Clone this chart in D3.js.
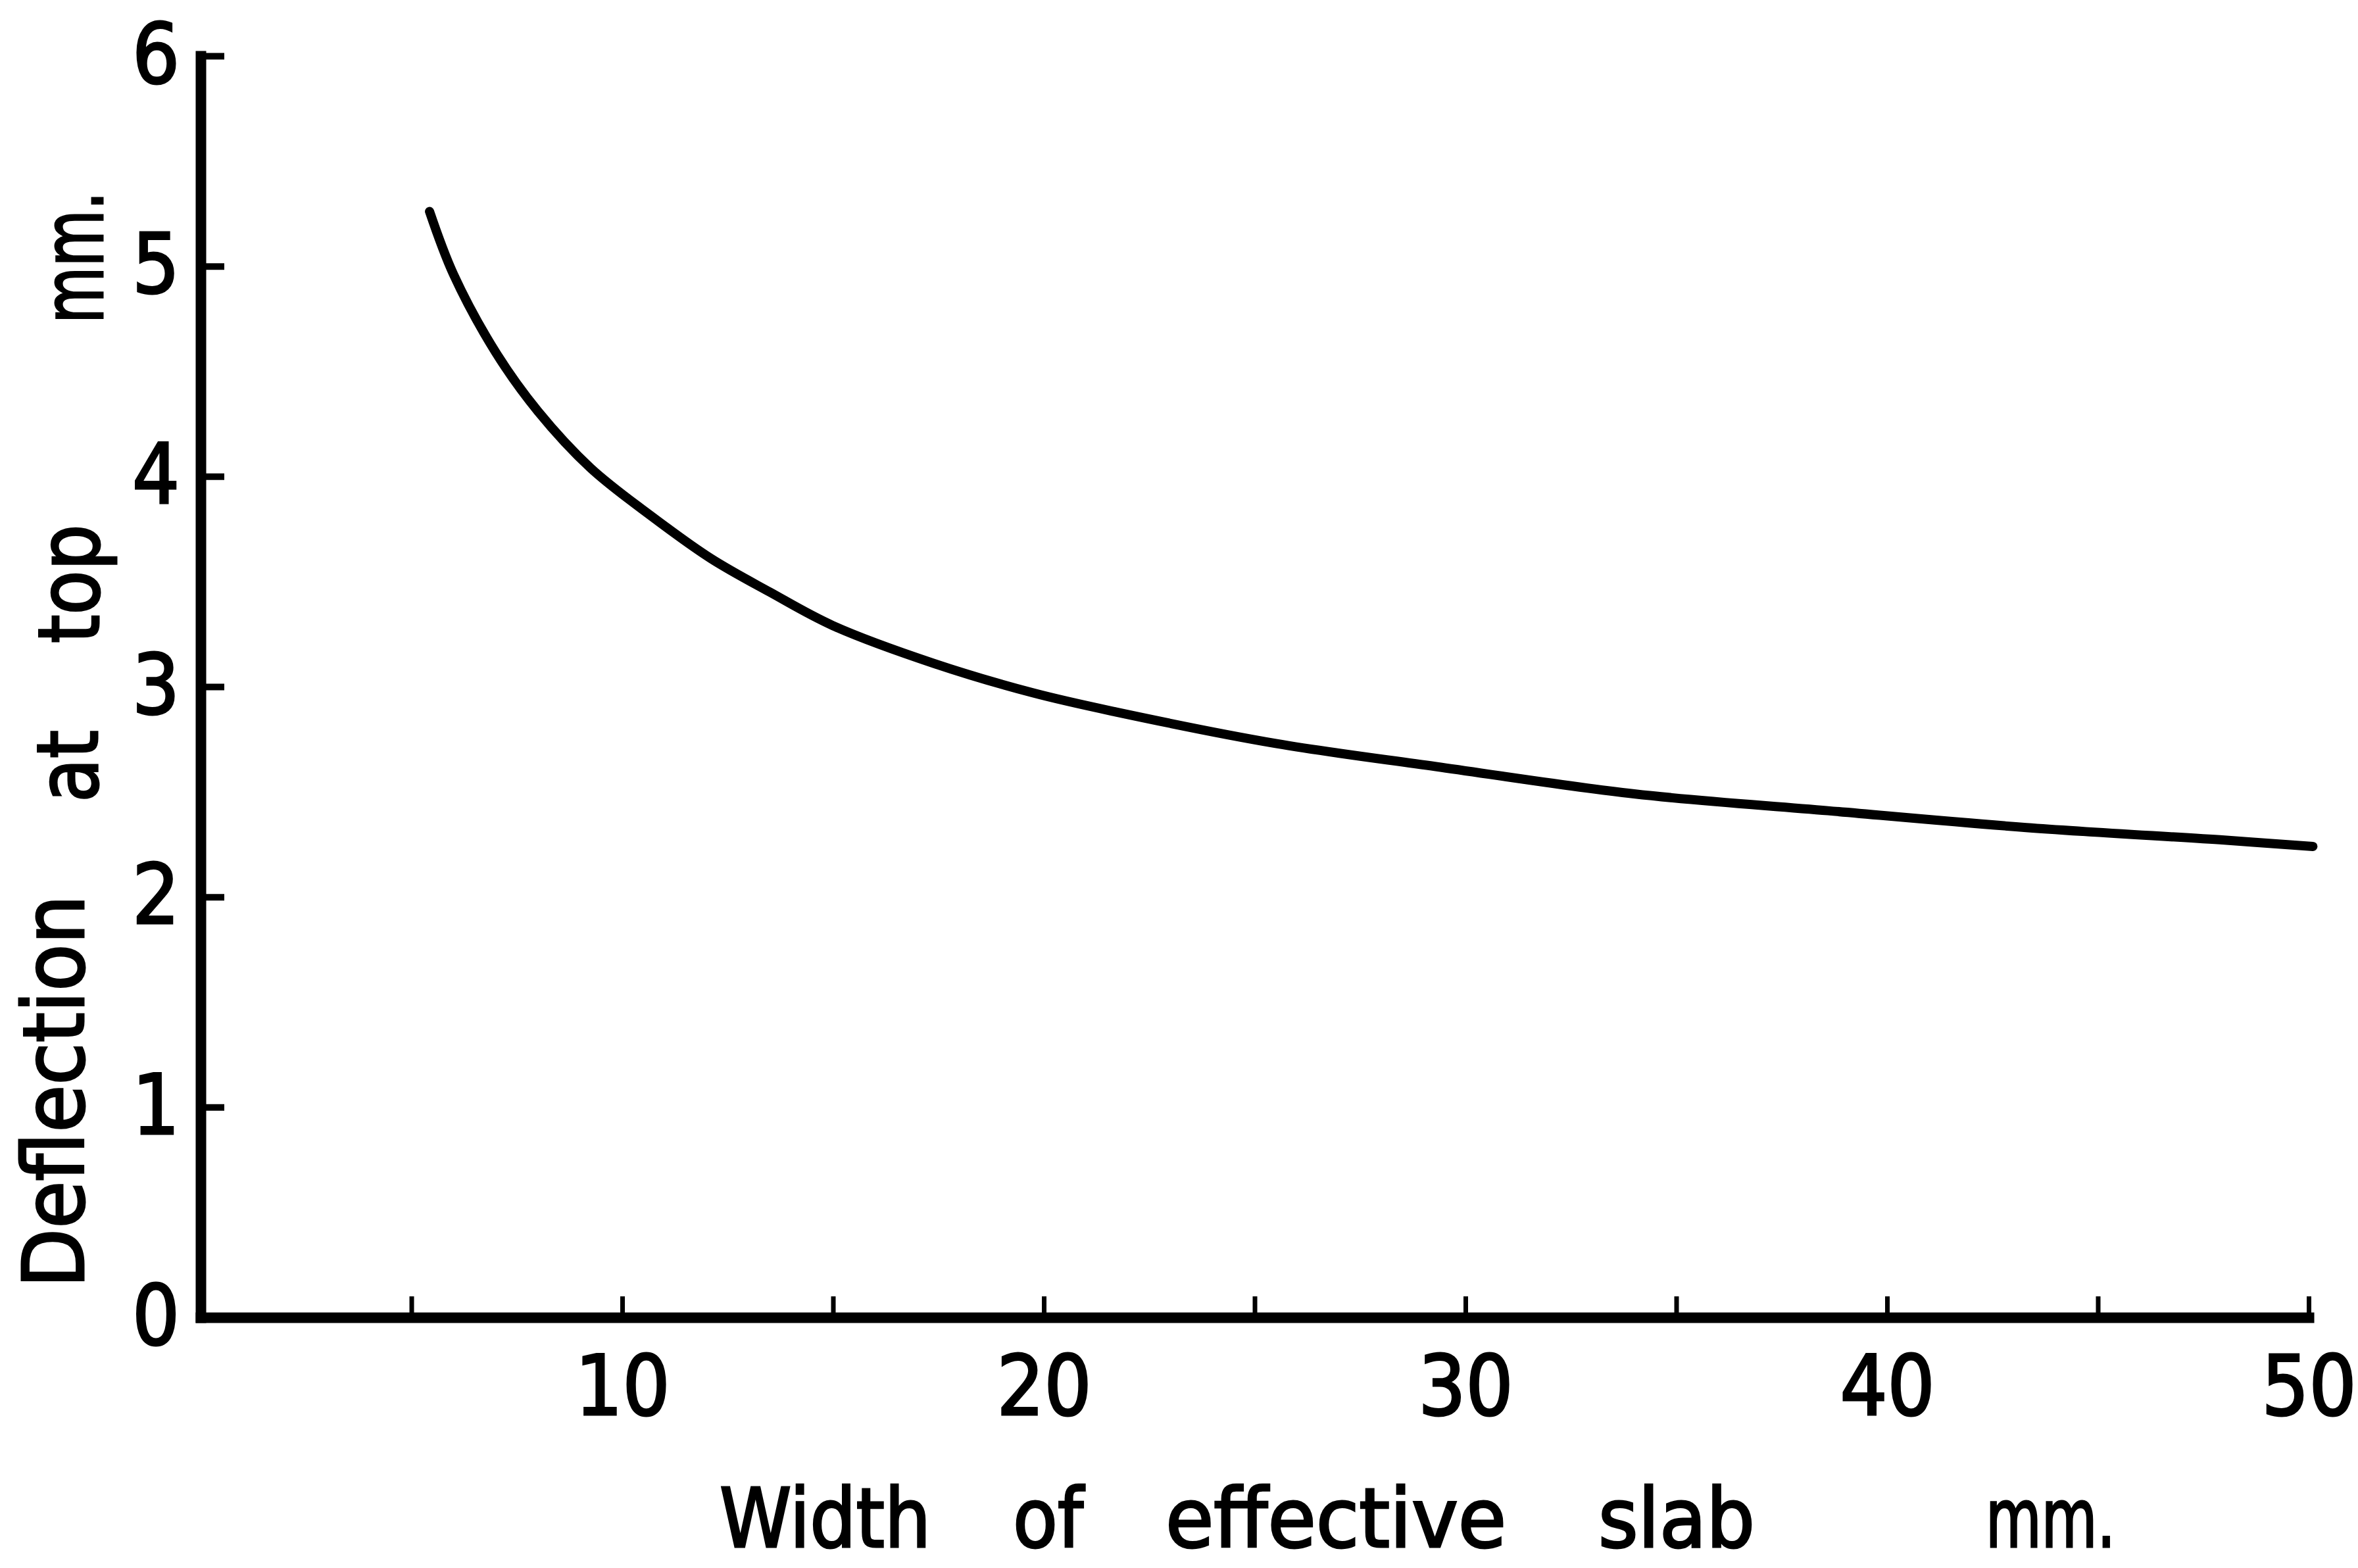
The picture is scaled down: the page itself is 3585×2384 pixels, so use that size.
<!DOCTYPE html>
<html>
<head>
<meta charset="utf-8">
<script src="https://cdn.jsdelivr.net/npm/d3@7"></script>
<style>
    body { margin: 0; background: #fff; }
    svg text { font-family: 'Liberation Sans Narrow', 'DejaVu Sans Condensed', 'Liberation Sans', sans-serif; fill: #000; stroke: #000; stroke-width: 3px; }
</style>
</head>
<body>
<svg class="chart" width="3585" height="2384"></svg>
<script>
// values
var slabWidth = [5.43, 6.0, 7.0, 8.0, 9.25, 10.7, 12.1, 13.5, 15.0, 17.4, 19.75, 21.7, 25.5, 29.3, 34.0, 38.6, 43.3, 48.0, 50.1];
var deflection = [5.26, 4.96, 4.59, 4.31, 4.04, 3.81, 3.61, 3.45, 3.29, 3.11, 2.97, 2.88, 2.73, 2.62, 2.49, 2.41, 2.33, 2.27, 2.24];
var xTicks = [5, 10, 15, 20, 25, 30, 35, 40, 45, 50];
var xLabels = [10, 20, 30, 40, 50];
var yTicks = [0, 1, 2, 3, 4, 5, 6];
var xTitle = ["Width", "of", "effective", "slab", "mm."];
var yTitle = ["Deflection", "at", "top", "mm."];

var svg = d3.select(".chart"),
    width = +svg.attr("width"),
    height = +svg.attr("height");

svg.append("rect").attr("width", width).attr("height", height).attr("fill", "#fff");

var x = d3.scaleLinear().domain([0, 50]).range([305, 3510]);
var y = d3.scaleLinear().domain([0, 6]).range([2003, 85]);

// x axis, ticks pointing up into the plot
var gx = svg.append("g")
    .attr("transform", "translate(0," + y(0) + ")")
    .call(d3.axisBottom(x)
        .tickValues(xTicks)
        .tickSizeInner(-32)
        .tickSizeOuter(0)
        .tickPadding(59)
        .tickFormat(d => xLabels.indexOf(d) >= 0 ? d : ""));

// y axis, ticks pointing right
var gy = svg.append("g")
    .attr("transform", "translate(" + x(0) + ",0)")
    .call(d3.axisLeft(y)
        .tickValues(yTicks)
        .tickSizeInner(-36)
        .tickSizeOuter(0)
        .tickPadding(32)
        .tickFormat(d3.format("d")));

[gx, gy].forEach(g => {
    g.select(".domain").attr("stroke", "#000").attr("stroke-width", 16).attr("stroke-linecap", "square");
    g.selectAll(".tick line").attr("stroke", "#000");
    g.selectAll(".tick text").style("font-size", "126px").attr("fill", "#000");
});
gx.selectAll(".tick line").attr("stroke-width", 7);
gy.selectAll(".tick line").attr("stroke-width", 10);
gy.selectAll(".tick").filter(d => d === 0).select("line").remove();

// the curve
var line = d3.line()
    .x((d, i) => x(slabWidth[i]))
    .y(d => y(d))
    .curve(d3.curveCatmullRom.alpha(0.5));

svg.append("path")
    .datum(deflection)
    .attr("d", line)
    .attr("fill", "none")
    .attr("stroke", "#000")
    .attr("stroke-width", 14)
    .attr("stroke-linecap", "round");

// axis titles, word by word as lettered on the original
var xWordSpan = [[1094, 1415], [1540, 1647], [1772, 2290], [2430, 2668], [3019, 3216]];
svg.selectAll(".xword")
    .data(xTitle)
    .enter()
    .append("text")
    .attr("class", "xword")
    .attr("x", (d, i) => xWordSpan[i][0])
    .attr("y", 2352)
    .attr("textLength", (d, i) => xWordSpan[i][1] - xWordSpan[i][0])
    .attr("lengthAdjust", "spacingAndGlyphs")
    .style("font-size", "124px")
    .text(d => d);

var yWordSpan = [[1958, 1361, 127], [1220, 1110, 148], [978, 797, 150], [492, 291, 156]];
svg.selectAll(".yword")
    .data(yTitle)
    .enter()
    .append("text")
    .attr("class", "yword")
    .attr("transform", (d, i) => "translate(" + yWordSpan[i][2] + "," + yWordSpan[i][0] + ") rotate(-90)")
    .attr("textLength", (d, i) => yWordSpan[i][0] - yWordSpan[i][1])
    .attr("lengthAdjust", "spacingAndGlyphs")
    .style("font-size", "128px")
    .text(d => d);
</script>
</body>
</html>
